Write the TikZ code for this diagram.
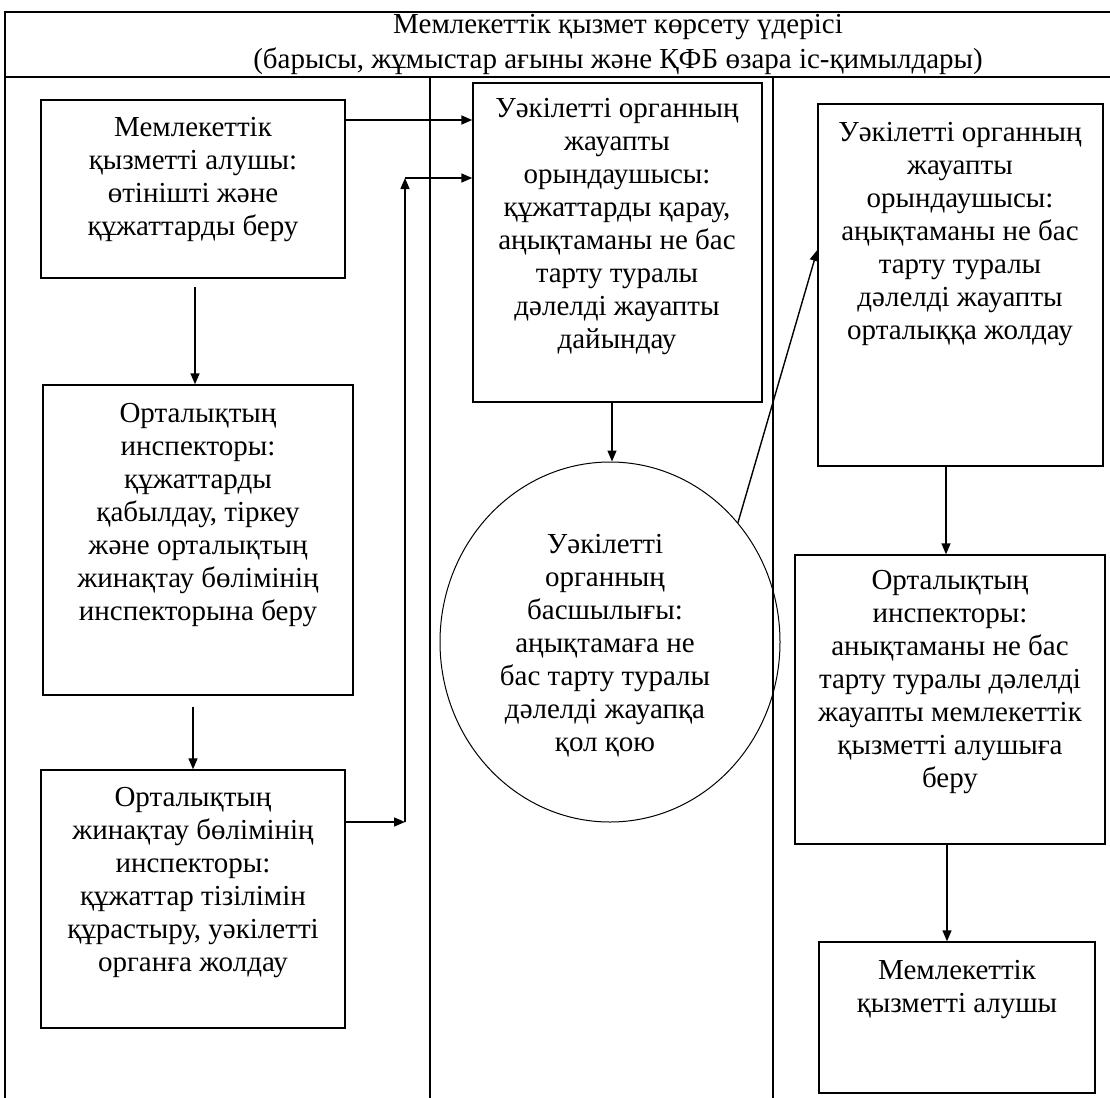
\documentclass[tikz,border=0pt]{standalone}
\usepackage{fontspec}
\setmainfont{Liberation Serif}
\usetikzlibrary{arrows.meta,shapes.geometric}
\begin{document}
\begin{tikzpicture}[x=1pt,y=-1pt,
  frame/.style={line width=1.6pt},
  box/.style={draw, line width=1.4pt, inner sep=0pt},
  oval/.style={draw, ellipse, line width=1pt, inner sep=0pt},
  txt/.style={align=center, font=\fontsize{29}{33}\selectfont, inner sep=0pt},
  arr/.style={line width=1.4pt, -{Triangle[length=11pt,width=9pt]}}]
\useasboundingbox (0,0) rectangle (1110,1097);
% frame
\draw[frame] (1112,12) -- (5,12) -- (5,1099);
\draw[frame] (5,77) -- (1112,77);
\draw[frame] (430,77) -- (430,1099);
\draw[frame] (773,77) -- (773,1099);
\node[txt, font=\fontsize{29}{35}\selectfont] (title) at (618,44.5) {Мемлекеттік қызмет көрсету үдерісі\\(барысы, жұмыстар ағыны және ҚФБ өзара іс-қимылдары)};
% boxes
\node[box, minimum width=304pt, minimum height=178pt] (b1) at (193,189) {};
\node[txt] (t1) at (193,180) {Мемлекеттік\\қызметті алушы:\\өтінішті және\\құжаттарды беру};
\node[box, minimum width=310pt, minimum height=310pt] (b2) at (198,540) {};
\node[txt] (t2) at (198,515) {Орталықтың\\инспекторы:\\құжаттарды\\қабылдау, тіркеу\\және орталықтың\\жинақтау бөлімінің\\инспекторына беру};
\node[box, minimum width=304pt, minimum height=258pt] (b3) at (193,899) {};
\node[txt] (t3) at (193,883) {Орталықтың\\жинақтау бөлімінің\\инспекторы:\\құжаттар тізілімін\\құрастыру, уәкілетті\\органға жолдау};
\node[box, minimum width=289pt, minimum height=319pt] (b4) at (617.5,242.5) {};
\node[txt] (t4) at (617,227) {Уәкілетті органның\\жауапты\\орындаушысы:\\құжаттарды қарау,\\аңықтаманы не бас\\тарту туралы\\дәлелді жауапты\\дайындау};
\node[oval, minimum width=340pt, minimum height=360pt] (el) at (610,642) {};
\node[txt] (t5) at (605,646) {Уәкілетті\\органның\\басшылығы:\\аңықтамаға не\\бас тарту туралы\\дәлелді жауапқа\\қол қою};
\node[box, minimum width=285pt, minimum height=362pt] (b5) at (960.5,285) {};
\node[txt] (t6) at (960,234) {Уәкілетті органның\\жауапты\\орындаушысы:\\аңықтаманы не бас\\тарту туралы\\дәлелді жауапты\\орталыққа жолдау};
\node[box, minimum width=310pt, minimum height=289pt] (b6) at (950,699.5) {};
\node[txt] (t7) at (950,682) {Орталықтың\\инспекторы:\\анықтаманы не бас\\тарту туралы дәлелді\\жауапты мемлекеттік\\қызметті алушыға\\беру};
\node[box, minimum width=276pt, minimum height=151pt] (b7) at (957,1017.5) {};
\node[txt] (t8) at (957,990) {Мемлекеттік\\қызметті алушы};
% connectors
\coordinate (j1) at (405,822);
\coordinate (j2) at (405,178);
\draw[arr] (b1.east |- 0,120) -- (b4.west |- 0,120);
\draw[arr] (195,287) -- (b2.north -| 195,0);
\draw[arr] (193,707) -- (b3.north -| 193,0);
\draw[arr] (b3.east |- j1) -- (j1);
\draw[arr] (j1) -- (j2);
\draw[arr] (j2) -- (b4.west |- j2);
\draw[arr] (b4.south -| 612,0) -- (el.north -| 612,0);
\draw[arr] (el.43) -- (b5.west |- 0,250);
\draw[arr] (b5.south -| 946,0) -- (b6.north -| 946,0);
\draw[arr] (b6.south -| 947,0) -- (b7.north -| 947,0);
\end{tikzpicture}
\end{document}
